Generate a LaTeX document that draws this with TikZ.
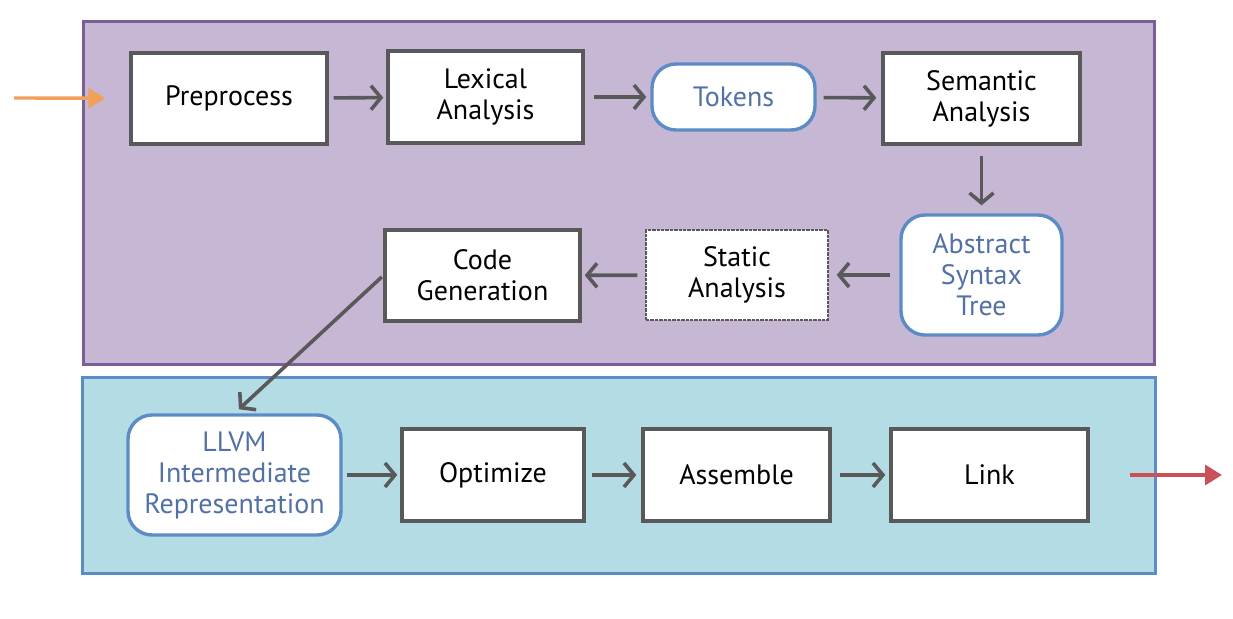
\documentclass[tikz,border=0pt]{standalone}
\usepackage{fontspec}
\setmainfont{PT Sans}
\usetikzlibrary{arrows.meta}

\definecolor{frontfill}{HTML}{C6B8D4}
\definecolor{frontline}{HTML}{7B5E99}
\definecolor{backfill}{HTML}{B3DCE5}
\definecolor{backline}{HTML}{5B8CC6}
\definecolor{boxline}{HTML}{595959}
\definecolor{datatext}{HTML}{5272A6}
\definecolor{inarrow}{HTML}{F0A05A}
\definecolor{outarrow}{HTML}{CC5058}

\tikzset{
  stage/.style={draw=boxline, line width=3.4pt, fill=white, align=center, inner sep=0pt},
  datum/.style={draw=backline, line width=3.4pt, fill=white, align=center, inner sep=0pt,
    rounded corners=24pt, text=datatext},
  flow/.style={draw=boxline, line width=3.6pt, -{Straight Barb[length=10pt,width=24pt,line width=3.6pt]}},
}

\begin{document}
\begin{tikzpicture}[x=1pt, y=-1pt, font=\fontsize{28}{31}\selectfont]
\useasboundingbox (0,0) rectangle (1233,618);

% frontend and backend panels
\draw[fill=frontfill, draw=frontline, line width=3pt] (83,22) rectangle (1154,364);
\draw[fill=backfill, draw=backline, line width=3pt] (82,377) rectangle (1155,573);

% first row
\node[stage, minimum width=196, minimum height=91] (prep) at (229,98.5) {Preprocess};
\node[stage, minimum width=195, minimum height=92] (lex) at (485.5,97) {Lexical\\Analysis};
\node[datum, minimum width=163, minimum height=66] (tok) at (733.5,97) {Tokens};
\node[stage, minimum width=197, minimum height=91] (sem) at (981.5,98.5) {Semantic\\Analysis};

% second row
\node[datum, minimum width=161, minimum height=120] (ast) at (981.5,275) {Abstract\\Syntax\\Tree};
\node[stage, densely dotted, line width=1.4pt, minimum width=182, minimum height=90] (stat) at (737,275) {Static\\Analysis};
\node[stage, minimum width=195, minimum height=91] (gen) at (482.5,275.5) {Code\\Generation};

% backend row
\node[datum, minimum width=213, minimum height=120] (ir) at (234.5,475) {LLVM\\Intermediate\\Representation};
\node[stage, minimum width=182, minimum height=92] (opt) at (493,475) {Optimize};
\node[stage, minimum width=187, minimum height=92] (asm) at (736.5,475) {Assemble};
\node[stage, minimum width=197, minimum height=92] (link) at (989.5,475) {Link};

\coordinate (src) at (14,98);
\coordinate (dst) at (1222,475);

\draw[inarrow, line width=3.4pt, -{Triangle[length=17pt,width=20pt]}, shorten >=24pt] (src) -- (prep);
\draw[outarrow, line width=3.4pt, -{Triangle[length=17pt,width=20pt]}, shorten <=40pt] (link) -- (dst);

\draw[flow, shorten <=5pt, shorten >=3pt] (prep) -- (lex);
\draw[flow, shorten <=9pt, shorten >=4pt] (lex) -- (tok);
\draw[flow, shorten <=7pt, shorten >=5pt] (tok) -- (sem);
\draw[flow, shorten <=10pt, shorten >=8pt] (sem) -- (ast);
\draw[flow, shorten <=9pt, shorten >=8pt] (ast) -- (stat);
\draw[flow, shorten <=8pt, shorten >=3pt] (stat) -- (gen);
\draw[flow, shorten <=2pt, shorten >=6pt] (gen.west) -- (ir.north);
\draw[flow, shorten <=4pt, shorten >=3pt] (ir) -- (opt);
\draw[flow, shorten <=6pt, shorten >=5pt] (opt) -- (asm);
\draw[flow, shorten <=8pt, shorten >=4pt] (asm) -- (link);
\end{tikzpicture}
\end{document}
